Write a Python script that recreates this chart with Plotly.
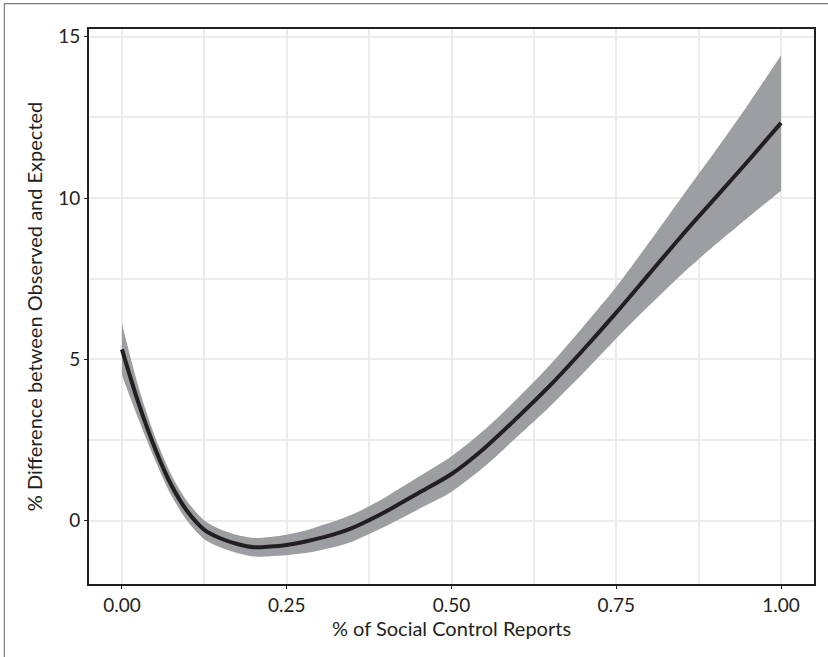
import plotly.graph_objects as go

# Smoothed difference curve with its confidence band
share = [0.0, 0.025, 0.05, 0.075, 0.1, 0.125, 0.15, 0.175, 0.2, 0.225, 0.25, 0.275,
         0.3, 0.325, 0.35, 0.375, 0.4, 0.45, 0.5, 0.55, 0.6, 0.65, 0.7, 0.75,
         0.8, 0.85, 0.9, 0.95, 1.0]
fit = [5.31, 3.65, 2.25, 1.10, 0.27, -0.28, -0.55, -0.72, -0.82, -0.80, -0.75, -0.66,
       -0.54, -0.40, -0.22, 0.02, 0.28, 0.86, 1.45, 2.25, 3.20, 4.20, 5.30, 6.45,
       7.65, 8.85, 10.00, 11.15, 12.33]
upper = [6.11, 4.15, 2.61, 1.42, 0.57, 0.01, -0.27, -0.44, -0.53, -0.50, -0.43, -0.32,
         -0.16, 0.00, 0.20, 0.45, 0.73, 1.36, 2.00, 2.82, 3.79, 4.84, 6.02, 7.25,
         8.63, 10.05, 11.45, 12.90, 14.43]
lower = [4.51, 3.15, 1.89, 0.78, -0.03, -0.57, -0.83, -1.00, -1.11, -1.10, -1.07, -1.01,
         -0.92, -0.80, -0.64, -0.41, -0.17, 0.36, 0.90, 1.68, 2.61, 3.56, 4.58, 5.65,
         6.67, 7.65, 8.55, 9.40, 10.23]

x_ticks = [0.0, 0.25, 0.5, 0.75, 1.0]
x_labels = ["0.00", "0.25", "0.50", "0.75", "1.00"]
y_ticks = [0, 5, 10, 15]
y_labels = ["0", "5", "10", "15"]

FONT = "Lato"
INK = "#231f20"
GRID = "#ebebeb"
BAND = "#9d9ea1"

fig = go.Figure()
# band: lower edge first, then upper edge filled down to it
fig.add_trace(go.Scatter(
    x=share, y=lower, mode="lines",
    line=dict(width=0, color=BAND, shape="spline", smoothing=0.8),
    hoverinfo="skip", showlegend=False,
))
fig.add_trace(go.Scatter(
    x=share, y=upper, mode="lines", fill="tonexty", fillcolor=BAND,
    line=dict(width=0, color=BAND, shape="spline", smoothing=0.8),
    hoverinfo="skip", showlegend=False,
))
fig.add_trace(go.Scatter(
    x=share, y=fit, mode="lines",
    line=dict(color=INK, width=4, shape="spline", smoothing=0.8),
    showlegend=False,
))

axis_common = dict(
    showline=True, linecolor=INK, linewidth=2, mirror=True,
    showgrid=True, gridcolor=GRID, gridwidth=1.5,
    ticks="outside", ticklen=3, tickwidth=1.2, tickcolor=INK,
    tickfont=dict(family=FONT, size=19, color=INK),
    zeroline=False,
)

fig.update_xaxes(
    range=[-0.05, 1.05], tickvals=x_ticks, ticktext=x_labels,
    minor=dict(dtick=0.125, showgrid=True, gridcolor=GRID, gridwidth=1.5, ticks=""),
    title=dict(text="% of Social Control Reports", standoff=6,
               font=dict(family=FONT, size=20, color=INK)),
    **axis_common,
)
fig.update_yaxes(
    range=[-1.96, 15.24], tickvals=y_ticks, ticktext=y_labels,
    minor=dict(dtick=2.5, showgrid=True, gridcolor=GRID, gridwidth=1.5, ticks=""),
    title=dict(text="% Difference between Observed and Expected", standoff=10,
               font=dict(family=FONT, size=20, color=INK)),
    **axis_common,
)

# frame lines along the left and top edges of the figure
fig.add_shape(type="line", xref="paper", yref="paper", x0=-0.1167, x1=1.2, y0=1.0459, y1=1.0459,
              line=dict(color="#7a7a7a", width=1.2))
fig.add_shape(type="line", xref="paper", yref="paper", x0=-0.1167, x1=-0.1167, y0=-0.2, y1=1.0459,
              line=dict(color="#7a7a7a", width=1.2))

fig.update_layout(
    width=828, height=657,
    margin=dict(l=89, r=12, t=29, b=73),
    paper_bgcolor="white", plot_bgcolor="white",
    font=dict(family=FONT, color=INK),
)

fig.write_html("out.html")
